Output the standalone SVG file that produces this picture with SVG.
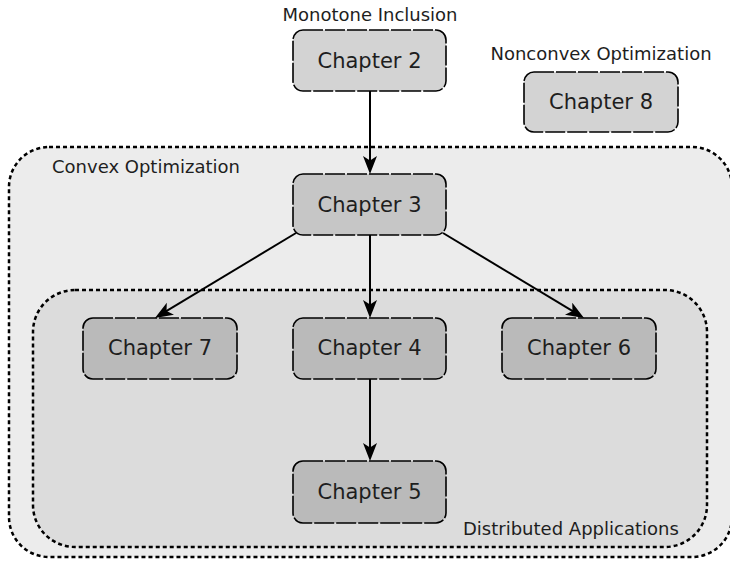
<svg xmlns="http://www.w3.org/2000/svg" width="730" height="562" viewBox="0 0 730 562">
<style>
.cont{stroke:#000;stroke-width:2.5;stroke-dasharray:4 3}
.node rect{stroke:#000;stroke-width:1.6;stroke-dasharray:20 2}
.lbl{font-family:"DejaVu Sans",sans-serif;font-size:21px;fill:#1e1e1e;text-anchor:middle}
.cap{font-family:"DejaVu Sans",sans-serif;font-size:18px;fill:#1e1e1e}
.edge{fill:none;stroke:#000;stroke-width:2;marker-end:url(#ah)}
</style>
<defs>
<marker id="ah" markerUnits="userSpaceOnUse" markerWidth="19" markerHeight="15" refX="14" refY="7" orient="auto" viewBox="0 0 19 15">
<path d="M0,0 L18,7 L0,14 L4.5,7 z" fill="#000"/>
</marker>
</defs>
<rect width="730" height="562" fill="#fff"/>
<g id="convex">
<rect class="cont" x="9" y="147" width="723" height="410" rx="40" fill="#ececec"/>
<text class="cap" x="52" y="173">Convex Optimization</text>
</g>
<g id="distributed">
<rect class="cont" x="33" y="290" width="674" height="257" rx="42" fill="#dcdcdc"/>
<text class="cap" x="463" y="535">Distributed Applications</text>
</g>
<text class="cap" x="370" y="21" text-anchor="middle">Monotone Inclusion</text>
<text class="cap" x="601" y="60" text-anchor="middle">Nonconvex Optimization</text>
<g id="connectors">
<path class="edge" d="M370,91 L370,170"/>
<path class="edge" d="M370,235 L370,314"/>
<path class="edge" d="M370,379 L370,457"/>
<path class="edge" d="M296,233 L158.4,315.9"/>
<path class="edge" d="M443,233 L580.6,315.9"/>
</g>
<g id="ch2" class="node"><rect x="293" y="30" width="153" height="61" rx="10" fill="#d3d3d3"/><text class="lbl" x="369.5" y="68">Chapter 2</text></g>
<g id="ch8" class="node"><rect x="524" y="72" width="154" height="60" rx="10" fill="#d3d3d3"/><text class="lbl" x="601" y="109">Chapter 8</text></g>
<g id="ch3" class="node"><rect x="293" y="174" width="153" height="61" rx="10" fill="#c6c6c6"/><text class="lbl" x="369.5" y="212">Chapter 3</text></g>
<g id="ch7" class="node"><rect x="83" y="318" width="154" height="61" rx="10" fill="#bababa"/><text class="lbl" x="160" y="355">Chapter 7</text></g>
<g id="ch4" class="node"><rect x="293" y="318" width="153" height="61" rx="10" fill="#bababa"/><text class="lbl" x="369.5" y="355">Chapter 4</text></g>
<g id="ch6" class="node"><rect x="502" y="318" width="154" height="61" rx="10" fill="#bababa"/><text class="lbl" x="579" y="355">Chapter 6</text></g>
<g id="ch5" class="node"><rect x="293" y="461" width="153" height="62" rx="10" fill="#bababa"/><text class="lbl" x="369.5" y="499">Chapter 5</text></g>
</svg>
